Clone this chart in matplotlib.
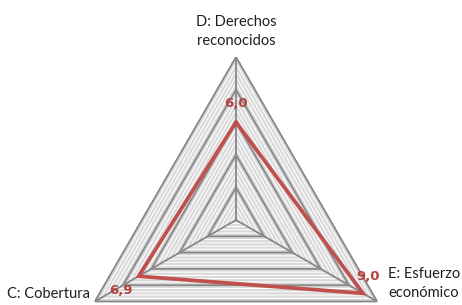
import numpy as np
import matplotlib
matplotlib.use("Agg")
import matplotlib.pyplot as plt
from matplotlib.font_manager import FontProperties

categories = ["D: Derechos\nreconocidos", "E: Esfuerzo\neconómico", "C: Cobertura"]
values = [6.0, 9.0, 6.9]
value_labels = ["6,0", "9,0", "6,9"]
major_levels = [2, 4, 6, 8, 10]
minor_step = 0.4
rmax = 10

plt.rcParams['font.family'] = ['Lato', 'DejaVu Sans']

fig = plt.figure(figsize=(4.62, 3.05), dpi=100)
R = 163
cx, cy = 236, 305 - 220
ax = fig.add_axes([(cx - R) / 462, (cy - R) / 305, 2 * R / 462, 2 * R / 305],
                  projection='polar')
ax.set_theta_offset(np.pi / 2)
ax.set_theta_direction(-1)
ax.set_ylim(0, rmax)
ax.grid(False)
ax.set_xticks([])
ax.set_yticks([])
ax.spines['polar'].set_visible(False)
ax.patch.set_visible(False)

n = len(categories)
theta = np.linspace(0, 2 * np.pi, n, endpoint=False)
theta_c = np.append(theta, theta[0])

# background fill
ax.fill(theta_c, [rmax] * (n + 1), color='#D9D9D9', zorder=1, lw=0)
# minor gridlines
for r in np.arange(minor_step, rmax, minor_step):
    ax.plot(theta_c, [r] * (n + 1), color='white', lw=0.8, zorder=2)
# major gridlines
for r in major_levels:
    ax.plot(theta_c, [r] * (n + 1), color='#878787', lw=1.3, zorder=3)
# spokes
for t in theta:
    ax.plot([t, t], [0, rmax], color='#878787', lw=1.3, zorder=3)

# data
vals_c = values + [values[0]]
ax.plot(theta_c, vals_c, color='#C0504D', lw=2.7, zorder=5, solid_joinstyle='miter')

lab_kw = dict(textcoords='offset pixels', fontsize=10.5, color='#1f1f1f',
              linespacing=1.5, annotation_clip=False)
# category labels
ax.annotate(categories[0], (theta[0], rmax), xytext=(0, 9), ha='center', va='bottom', **lab_kw)
ax.annotate(categories[1], (theta[1], rmax), xytext=(11, 18), ha='left', va='center', **lab_kw)
ax.annotate(categories[2], (theta[2], rmax), xytext=(-5, 8), ha='right', va='center', **lab_kw)

# value labels
fp = FontProperties(family='DejaVu Sans', weight='bold', size=9.5)
val_kw = dict(textcoords='offset pixels', ha='center', va='center',
              fontproperties=fp, color='#B5403D', annotation_clip=False)
ax.annotate(value_labels[0], (theta[0], values[0]), xytext=(0, 19), **val_kw)
ax.annotate(value_labels[1], (theta[1], values[1]), xytext=(5, 17), **val_kw)
ax.annotate(value_labels[2], (theta[2], values[2]), xytext=(-18, -14), **val_kw)

fig.savefig("out.png", dpi=100)
